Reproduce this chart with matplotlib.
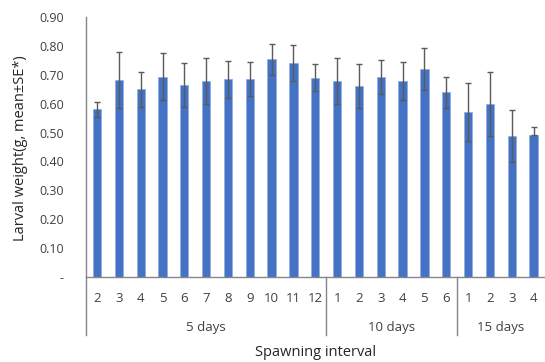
import matplotlib
matplotlib.use("Agg")
import matplotlib.pyplot as plt
from matplotlib.ticker import FuncFormatter
from matplotlib.transforms import blended_transform_factory
import numpy as np

plt.rcParams['font.family'] = ['Open Sans', 'DejaVu Sans']

# Larval weight by spawning order within each spawning interval
groups = ["5 days", "10 days", "15 days"]
group_orders = [
    ["2", "3", "4", "5", "6", "7", "8", "9", "10", "11", "12"],
    ["1", "2", "3", "4", "5", "6"],
    ["1", "2", "3", "4"],
]
mean_weight = [0.580, 0.682, 0.650, 0.693, 0.664, 0.678, 0.684, 0.685, 0.753, 0.742, 0.690,
               0.678, 0.661, 0.692, 0.677, 0.720, 0.639,
               0.572, 0.599, 0.488, 0.493]
se_low = [0.027, 0.096, 0.060, 0.081, 0.076, 0.080, 0.064, 0.060, 0.053, 0.062, 0.047,
          0.080, 0.077, 0.060, 0.066, 0.074, 0.054,
          0.100, 0.110, 0.090, 0.0]
se_high = [0.027, 0.096, 0.060, 0.081, 0.076, 0.080, 0.064, 0.060, 0.053, 0.062, 0.047,
           0.080, 0.077, 0.060, 0.066, 0.074, 0.054,
           0.100, 0.110, 0.090, 0.025]
y_ticks = [0.0, 0.1, 0.2, 0.3, 0.4, 0.5, 0.6, 0.7, 0.8, 0.9]

tick_labels = [lab for g in group_orders for lab in g]
x = np.arange(len(tick_labels))

fig = plt.figure(figsize=(5.45, 3.62), dpi=100)
ax = fig.add_axes([0.158, 0.235, 0.841, 0.718])

bar_color = "#4472C4"
axis_color = "#868686"
text_color = "#404040"

ax.bar(x, mean_weight, width=0.38, color=bar_color, edgecolor="#8FAADC",
       linewidth=0.5, zorder=2)
ax.errorbar(x, mean_weight, yerr=[se_low, se_high], fmt="none",
            ecolor="#5a5a5a", elinewidth=1.0, capsize=2.5, capthick=1.0, zorder=3)

ax.set_xlim(-0.5, len(x) - 0.5)
ax.set_ylim(0, 0.9)
ax.set_yticks(y_ticks)
ax.yaxis.set_major_formatter(FuncFormatter(lambda v, p: "-" if abs(v) < 1e-9 else f"{v:.2f}"))
ax.set_xticks(x)
ax.set_xticklabels(tick_labels)
ax.tick_params(axis="both", length=0, colors=text_color)
ax.tick_params(axis="x", pad=11, labelsize=9.5)
ax.tick_params(axis="y", pad=16, labelsize=9)

for side in ("top", "right"):
    ax.spines[side].set_visible(False)
for side in ("left", "bottom"):
    ax.spines[side].set_color(axis_color)
    ax.spines[side].set_linewidth(1.0)

# Group separators and group labels below the category axis
trans = blended_transform_factory(ax.transData, ax.transAxes)
start = 0
bounds = [-0.5]
for g, orders in zip(groups, group_orders):
    end = start + len(orders)
    bounds.append(end - 0.5)
    ax.text((start + end - 1) / 2, -0.195, g, transform=trans, ha="center",
            va="center", fontsize=9.5, color=text_color)
    start = end
for b in bounds[:-1]:
    ax.plot([b, b], [0, -0.224], transform=trans, color=axis_color,
            linewidth=1.0, clip_on=False)

ax.text(0.5, -0.29, "Spawning interval", transform=ax.transAxes, ha="center",
        va="center", fontsize=10.5, color="#262626")
fig.text(21 / 545, 1 - 148 / 362, "Larval weight(g, mean±SE*)", rotation=90,
         ha="center", va="center", fontsize=10.5, color="#262626")

fig.savefig("out.png", dpi=100)
